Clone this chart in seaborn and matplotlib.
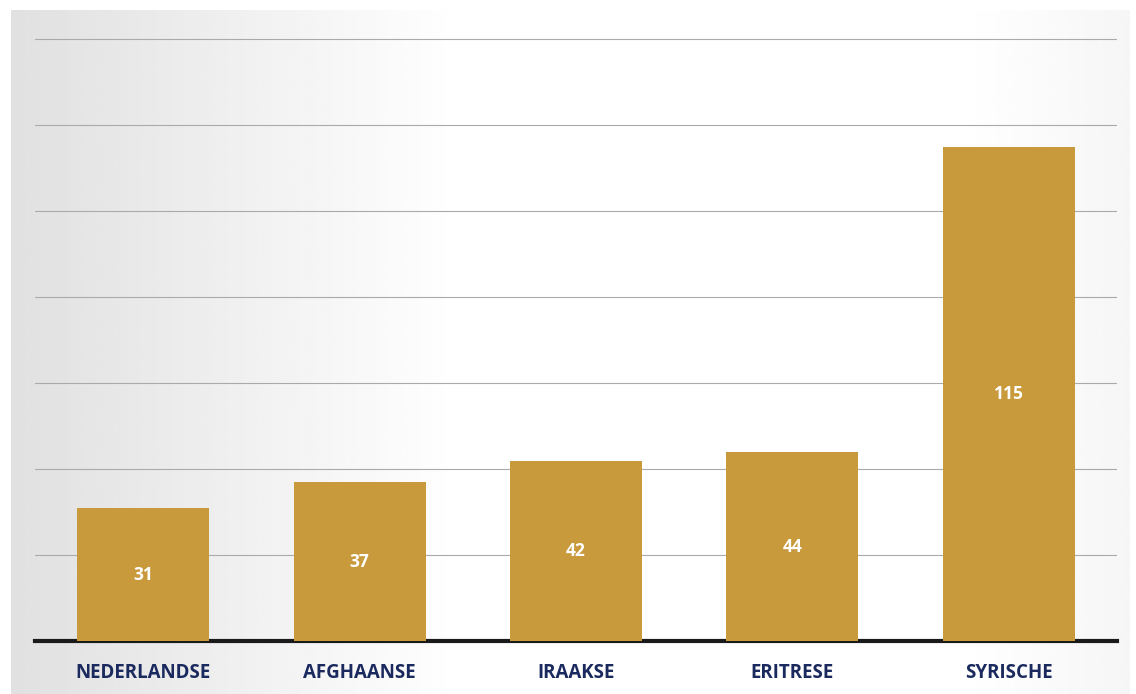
import numpy as np
import matplotlib.pyplot as plt
import seaborn as sns
import pandas as pd

# -----------------------------
# Data
# -----------------------------
nationaliteiten = ["NEDERLANDSE", "AFGHAANSE", "IRAAKSE", "ERITRESE", "SYRISCHE"]
aantallen = [31, 37, 42, 44, 115]

df = pd.DataFrame({"nat": nationaliteiten, "n": aantallen})

bar_color = "#C99A3C"
label_color = "#1B2A5E"

sns.set_style("white")
plt.rcParams["font.family"] = ["Open Sans", "DejaVu Sans"]

fig = plt.figure(figsize=(11.36, 6.94), dpi=100)
fig.patch.set_facecolor("white")

# soft grey photo-like backdrop
bg = fig.add_axes([0.01, 0.0, 0.985, 0.985], zorder=0)
grad = np.linspace(0, 1, 256)
gx, gy = np.meshgrid(grad, grad)
shade = 0.88 + 0.12 * np.clip(gx * 2.5, 0, 1) - 0.04 * np.clip(gx - 0.85, 0, 1) * 6
bg.imshow(shade, cmap="gray", vmin=0, vmax=1, aspect="auto", extent=[0, 1, 0, 1])
bg.axis("off")

ax = fig.add_axes([0.031, 0.076, 0.952, 0.88], zorder=1)
ax.patch.set_alpha(0)

sns.barplot(data=df, x="nat", y="n", color=bar_color, width=0.61,
            saturation=1, edgecolor="none", linewidth=0, ax=ax, zorder=3)

ax.set_ylim(0, 142)
ax.set_yticks(range(20, 141, 20))
ax.yaxis.grid(True, color="#aaaaaa", linewidth=0.8)
ax.set_axisbelow(True)
ax.tick_params(axis="y", left=False, labelleft=False)
ax.tick_params(axis="x", bottom=False, pad=12)

for s in ["top", "right", "left"]:
    ax.spines[s].set_visible(False)
ax.spines["bottom"].set_color("#1a1a1a")
ax.spines["bottom"].set_linewidth(3)

for lbl in ax.get_xticklabels():
    lbl.set_fontweight("bold")
    lbl.set_fontsize(13.5)
    lbl.set_color(label_color)

for i, v in enumerate(aantallen):
    ax.text(i, v / 2, str(v), ha="center", va="center", color="white",
            fontsize=12.5, fontweight="bold", zorder=4)

ax.set_xlabel("")
ax.set_ylabel("")

plt.savefig("out.png", dpi=100)
